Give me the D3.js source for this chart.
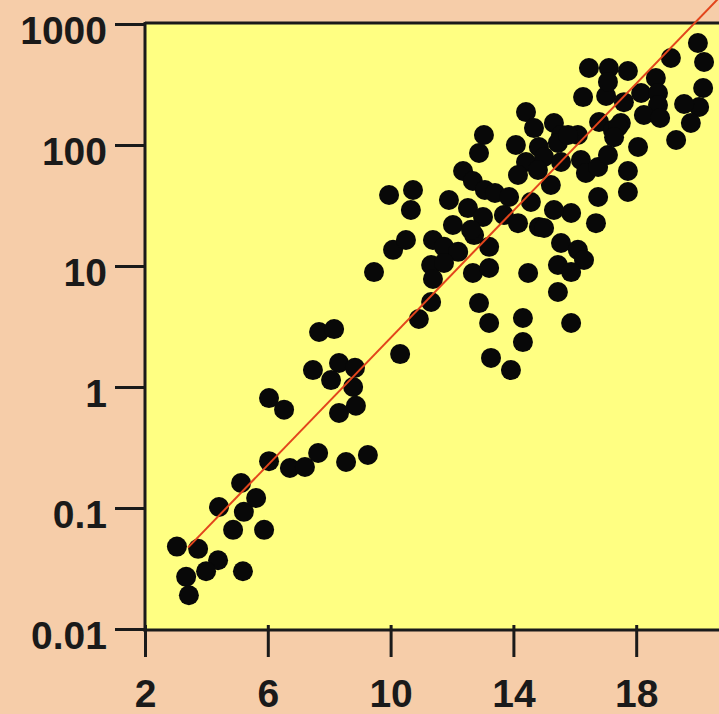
<!DOCTYPE html>
<html>
<head>
<meta charset="utf-8">
<script src="https://cdn.jsdelivr.net/npm/d3@7"></script>
<style>
  html, body { margin: 0; padding: 0; background: #F6CDA9; }
  svg { display: block; }
</style>
</head>
<body>
<svg id="chart" width="719" height="714"></svg>
<script>
// Observations: x value and measured y value (log scale)
const xValues = [
  3.04, 3.73, 4.38, 3.99, 3.34, 3.43, 5.19, 4.87, 5.88, 4.41,
  5.22, 5.62, 5.13, 6.04, 6.72, 7.21, 7.64, 8.55, 9.26, 6.04,
  6.53, 7.67, 8.16, 7.47, 8.32, 8.84, 8.06, 8.78, 8.32, 8.87,
  10.31, 10.92, 11.32, 9.46, 9.95, 10.73, 10.66, 10.08, 10.50, 11.90,
  12.36, 12.68, 13.07, 13.40, 13.86, 12.52, 13.01, 13.69, 14.15, 14.57,
  14.83, 12.03, 11.38, 11.74, 12.20, 12.72, 13.21, 11.32, 11.74, 11.38,
  12.68, 13.21, 14.48, 12.88, 13.21, 14.31, 14.31, 13.27, 13.92, 14.41,
  13.04, 12.88, 14.67, 15.32, 15.55, 14.08, 14.83, 15.45, 16.10, 14.41,
  15.00, 15.55, 16.20, 14.15, 14.80, 15.22, 15.88, 15.32, 16.76, 16.69,
  15.55, 16.10, 16.30, 15.45, 15.88, 15.45, 15.88, 15.00, 12.62, 16.36,
  16.76, 17.08, 17.73, 17.73, 16.27, 17.02, 17.60, 16.79, 17.24, 17.50,
  20.01, 20.21, 19.13, 16.46, 17.11, 17.73, 17.08, 18.64, 18.16, 18.71,
  18.71, 18.25, 18.78, 20.18, 20.05, 19.56, 19.78, 19.30, 17.41, 18.06,
  15.78, 17.28
];
const yValues = [
  0.048, 0.046, 0.037, 0.030, 0.027, 0.019, 0.030, 0.066, 0.066, 0.102,
  0.093, 0.121, 0.161, 0.244, 0.214, 0.218, 0.285, 0.240, 0.274, 0.81,
  0.65, 2.85, 3.01, 1.38, 1.58, 1.44, 1.14, 1.00, 0.61, 0.70,
  1.87, 3.65, 5.04, 8.91, 38.6, 42.5, 29.0, 13.6, 16.4, 35.1,
  61.0, 50.4, 42.5, 40.1, 37.2, 30.1, 25.4, 26.4, 22.6, 33.8,
  21.0, 21.8, 16.4, 14.4, 13.1, 18.0, 14.4, 10.2, 10.6, 7.81,
  8.75, 9.62, 8.75, 4.94, 3.38, 3.72, 2.35, 1.74, 1.38, 187,
  121, 85.9, 138, 152, 121, 100, 96.2, 104, 121, 72.4,
  79.6, 72.4, 75.2, 56.5, 62.1, 46.7, 27.4, 29.0, 37.2, 22.6,
  15.5, 13.6, 11.2, 10.2, 8.91, 6.10, 3.38, 20.6, 19.9, 58.7,
  65.8, 82.6, 61.0, 40.9, 249, 254, 226, 155, 133, 152,
  697, 485, 524, 433, 433, 409, 332, 358, 269, 269,
  214, 177, 167, 296, 206, 218, 152, 110, 141, 96.2,
  121, 116
];

// Fitted trend line, given by its two end points
const fitX = [3.4, 20.8];
const fitY = [0.047, 1750];

// Axis ticks
const xTicks = [2, 6, 10, 14, 18];
const yTicks = [0.01, 0.1, 1, 10, 100, 1000];
const yTickLabels = ["0.01", "0.1", "1", "10", "100", "1000"];

const W = 719, H = 714;
const plotL = 145, plotT = 24, plotB = 629, plotR = 719;

const svg = d3.select("#chart");

const x = d3.scaleLinear().domain([2, 2 + (plotR - plotL) / 30.7]).range([plotL, plotR]);
const y = d3.scaleLog().domain([0.01, 1000]).range([plotB, plotT]);

// Page background
svg.append("rect").attr("width", W).attr("height", H).attr("fill", "#F6CDA9");

// Plot panel
svg.append("rect")
  .attr("x", plotL).attr("y", plotT)
  .attr("width", plotR - plotL).attr("height", plotB - plotT + 1)
  .attr("fill", "#FFFF82");

// Points
const pts = xValues.map((v, i) => ({ x: v, y: yValues[i] }));
svg.append("g")
  .selectAll("circle")
  .data(pts)
  .join("circle")
  .attr("cx", d => x(d.x))
  .attr("cy", d => y(d.y))
  .attr("r", 10)
  .attr("fill", "#080808");

// Top frame line
svg.append("line")
  .attr("x1", plotL).attr("x2", plotR)
  .attr("y1", plotT - 1).attr("y2", plotT - 1)
  .attr("stroke", "#1a1a1a").attr("stroke-width", 3);

// Trend line (drawn on top of the points)
const fit = fitX.map((v, i) => ({ x: v, y: fitY[i] }));
svg.append("path")
  .datum(fit)
  .attr("d", d3.line().x(d => x(d.x)).y(d => y(d.y)))
  .attr("fill", "none")
  .attr("stroke", "#E2451C")
  .attr("stroke-width", 2);

const fontFamily = "'Liberation Sans', Arial, sans-serif";

// Y axis
const yAxis = svg.append("g")
  .attr("transform", `translate(${plotL},0)`)
  .call(d3.axisLeft(y)
    .tickValues(yTicks)
    .tickSize(30)
    .tickFormat((d, i) => yTickLabels[i]));
yAxis.select(".domain")
  .attr("d", `M0,${plotT - 2}V${plotB + 3}`)
  .attr("stroke", "#1a1a1a").attr("stroke-width", 3);
yAxis.selectAll(".tick line").attr("stroke", "#1a1a1a").attr("stroke-width", 3);
yAxis.selectAll(".tick text")
  .attr("x", -38).attr("dy", "0").attr("y", 19)
  .attr("fill", "#1a1a1a")
  .style("font-family", fontFamily)
  .style("font-weight", "bold")
  .style("font-size", "39px");

// X axis
const xAxis = svg.append("g")
  .attr("transform", `translate(0,${plotB + 1})`)
  .call(d3.axisBottom(x).tickValues(xTicks).tickSize(27).tickFormat(d3.format("d")));
xAxis.select(".domain")
  .attr("d", `M${plotL},0H${plotR}`)
  .attr("stroke", "#1a1a1a").attr("stroke-width", 3);
xAxis.selectAll(".tick line")
  .attr("y1", -5)
  .attr("stroke", "#1a1a1a").attr("stroke-width", 3);
xAxis.selectAll(".tick text")
  .attr("y", 77).attr("dy", "0")
  .attr("fill", "#1a1a1a")
  .style("font-family", fontFamily)
  .style("font-weight", "bold")
  .style("font-size", "39px");
</script>
</body>
</html>
